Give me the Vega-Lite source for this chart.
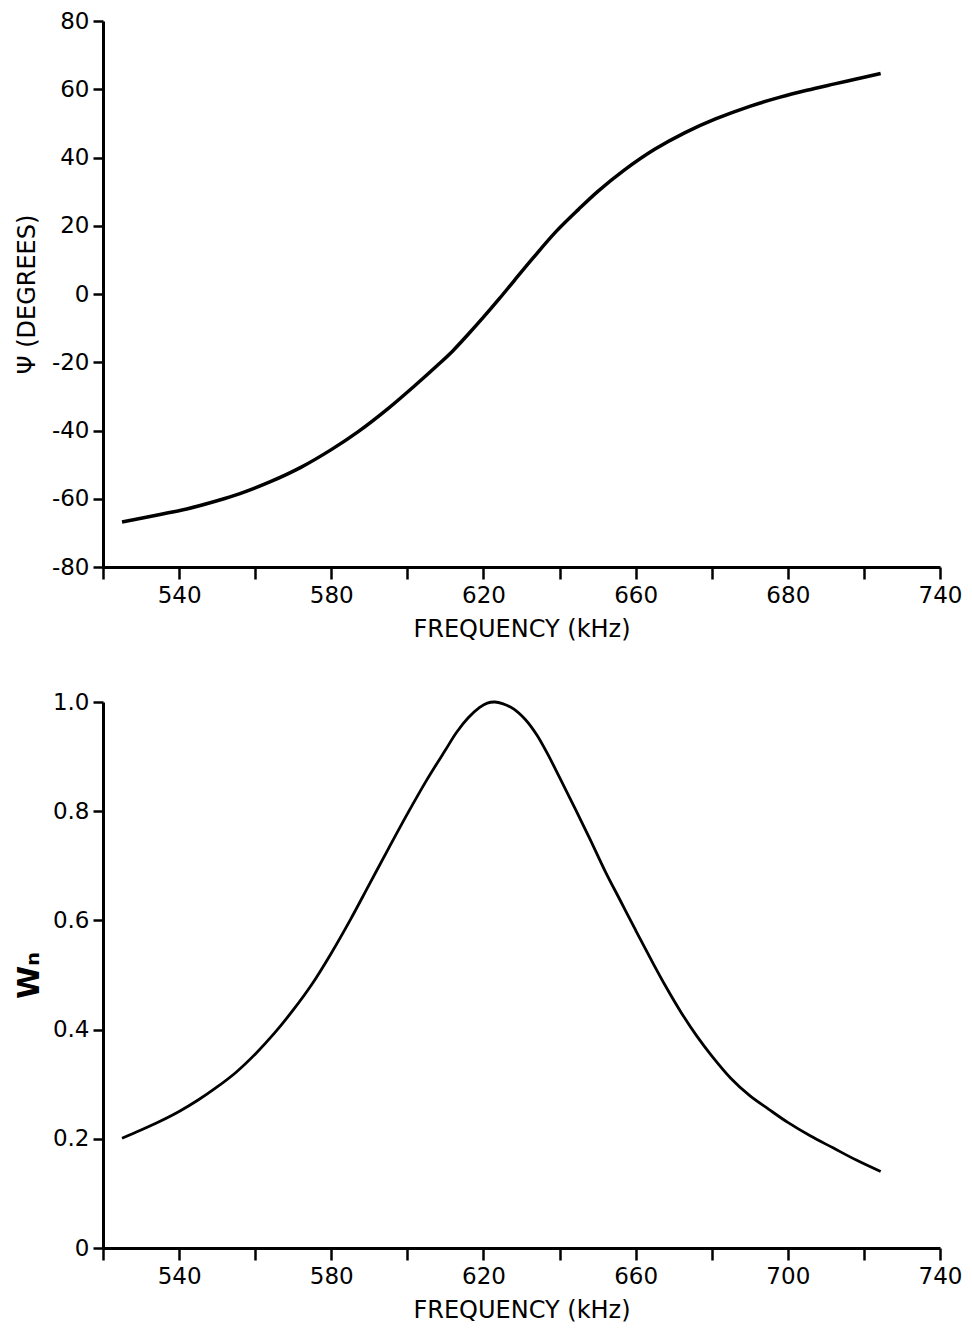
{
  "$schema": "https://vega.github.io/schema/vega-lite/v6.json",
  "background": "white",
  "padding": {"left": 14, "top": 10, "right": 20, "bottom": 2},
  "spacing": 50,
  "config": {
    "font": "DejaVu Sans",
    "view": {"stroke": null},
    "axis": {
      "grid": false,
      "domainColor": "black",
      "domainWidth": 3,
      "tickColor": "black",
      "tickWidth": 2.5,
      "labelColor": "black",
      "labelFontSize": 23,
      "labelFont": "DejaVu Sans",
      "titleColor": "black",
      "titleFontSize": 24,
      "titleFont": "DejaVu Sans",
      "titleFontWeight": "normal",
      "labelOverlap": false,
      "labelBound": false,
      "labelFlush": false
    },
    "axisX": {"tickSize": 12, "labelPadding": 5, "titlePadding": 10},
    "axisY": {"tickSize": 10, "labelPadding": 4, "titlePadding": 12}
  },
  "datasets": {
    "phase": [
      {"f": 525, "psi": -66.8}, {"f": 535, "psi": -64.6}, {"f": 542, "psi": -63.0},
      {"f": 550, "psi": -60.6}, {"f": 556, "psi": -58.5}, {"f": 564, "psi": -55.0},
      {"f": 572, "psi": -50.8}, {"f": 580, "psi": -45.6}, {"f": 587, "psi": -40.4},
      {"f": 595, "psi": -33.5}, {"f": 602, "psi": -26.8}, {"f": 608, "psi": -20.8},
      {"f": 612, "psi": -16.6}, {"f": 616, "psi": -11.8}, {"f": 620, "psi": -6.8},
      {"f": 624, "psi": -1.6}, {"f": 628, "psi": 3.8}, {"f": 633, "psi": 10.5},
      {"f": 639, "psi": 18.2}, {"f": 645, "psi": 24.8}, {"f": 650, "psi": 30.0},
      {"f": 657, "psi": 36.3}, {"f": 665, "psi": 42.4}, {"f": 673, "psi": 47.3},
      {"f": 681, "psi": 51.3}, {"f": 690, "psi": 55.0}, {"f": 698, "psi": 57.7},
      {"f": 705, "psi": 59.7}, {"f": 712, "psi": 61.5}, {"f": 718, "psi": 63.0},
      {"f": 724.4, "psi": 64.6}
    ],
    "wn": [
      {"f": 525, "w": 0.201}, {"f": 530, "w": 0.216}, {"f": 535, "w": 0.232},
      {"f": 540, "w": 0.250}, {"f": 545, "w": 0.271}, {"f": 550, "w": 0.295},
      {"f": 555, "w": 0.322}, {"f": 560, "w": 0.355}, {"f": 565, "w": 0.393},
      {"f": 570, "w": 0.436}, {"f": 575, "w": 0.484}, {"f": 580, "w": 0.540},
      {"f": 585, "w": 0.601}, {"f": 590, "w": 0.666}, {"f": 595, "w": 0.731},
      {"f": 600, "w": 0.795}, {"f": 605, "w": 0.856}, {"f": 610, "w": 0.912},
      {"f": 613, "w": 0.945}, {"f": 616, "w": 0.971}, {"f": 619, "w": 0.990},
      {"f": 621, "w": 0.998}, {"f": 623, "w": 1.0}, {"f": 625, "w": 0.997},
      {"f": 628, "w": 0.987}, {"f": 631, "w": 0.968},
      {"f": 634, "w": 0.940}, {"f": 637, "w": 0.903},
      {"f": 640, "w": 0.862}, {"f": 644, "w": 0.806}, {"f": 648, "w": 0.749},
      {"f": 652, "w": 0.690}, {"f": 656, "w": 0.636}, {"f": 660, "w": 0.582},
      {"f": 664, "w": 0.529}, {"f": 668, "w": 0.478}, {"f": 672, "w": 0.431},
      {"f": 676, "w": 0.389}, {"f": 680, "w": 0.352}, {"f": 685, "w": 0.311},
      {"f": 690, "w": 0.279}, {"f": 695, "w": 0.254}, {"f": 700, "w": 0.230},
      {"f": 706, "w": 0.205}, {"f": 712, "w": 0.183}, {"f": 718, "w": 0.161},
      {"f": 724.4, "w": 0.140}
    ]
  },
  "vconcat": [
    {
      "width": 837,
      "height": 546,
      "data": {"name": "phase"},
      "mark": {"type": "line", "color": "black", "strokeWidth": 3.5, "interpolate": "catmull-rom"},
      "encoding": {
        "x": {
          "field": "f", "type": "quantitative",
          "scale": {"domain": [520, 740], "nice": false, "zero": false},
          "axis": {
            "title": "FREQUENCY (kHz)",
            "values": [520, 540, 560, 580, 600, 620, 640, 660, 680, 700, 720, 740],
            "labelExpr": "datum.value == 700 ? '680' : ((datum.value - 540) % 40 == 0 ? datum.label : '')"
          }
        },
        "y": {
          "field": "psi", "type": "quantitative",
          "scale": {"domain": [-80, 80], "nice": false, "zero": false},
          "axis": {
            "title": "Ψ (DEGREES)",
            "values": [-80, -60, -40, -20, 0, 20, 40, 60, 80],
            "labelExpr": "'' + datum.value"
          }
        }
      }
    },
    {
      "width": 837,
      "height": 546,
      "data": {"name": "wn"},
      "mark": {"type": "line", "color": "black", "strokeWidth": 2.8, "interpolate": "catmull-rom"},
      "encoding": {
        "x": {
          "field": "f", "type": "quantitative",
          "scale": {"domain": [520, 740], "nice": false, "zero": false},
          "axis": {
            "title": "FREQUENCY (kHz)",
            "values": [520, 540, 560, 580, 600, 620, 640, 660, 680, 700, 720, 740],
            "labelExpr": "(datum.value - 540) % 40 == 0 ? datum.label : ''"
          }
        },
        "y": {
          "field": "w", "type": "quantitative",
          "scale": {"domain": [0, 1], "nice": false},
          "axis": {
            "title": "Wₙ",
            "titleFontWeight": "bold",
            "titleFontSize": 30,
            "titlePadding": 8,
            "values": [0, 0.2, 0.4, 0.6, 0.8, 1.0],
            "labelExpr": "datum.value == 0 ? '0' : format(datum.value, '.1f')"
          }
        }
      }
    }
  ]
}
